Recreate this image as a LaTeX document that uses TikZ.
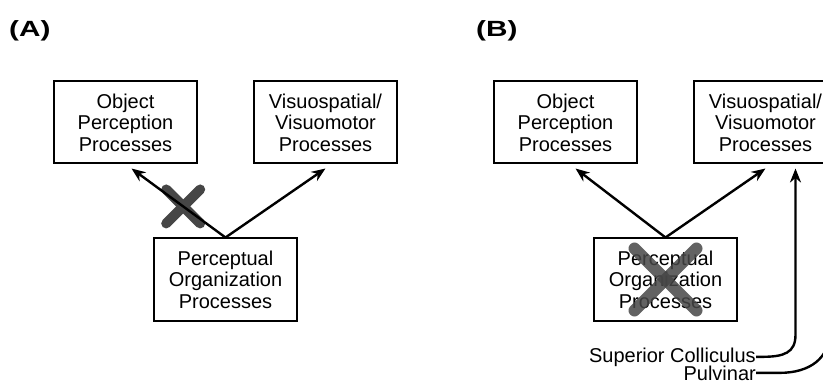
\documentclass[tikz,border=0pt]{standalone}
\usepackage{fontspec}
\setmainfont{Liberation Sans}
\usetikzlibrary{arrows.meta,positioning,calc}
\tikzset{
    procbox/.style={draw, line width=2pt, minimum width=143pt, minimum height=82pt, align=center, inner sep=2pt, font=\fontsize{20}{21.5}\selectfont},
    pathway/.style={-{Stealth[length=14pt, width=11pt, inset=4.5pt]}, line width=2.4pt},
    lesion/.style={line width=10pt, gray!55!black, line cap=round},
    panel/.style={font=\fontsize{22}{24}\selectfont\bfseries, anchor=base west, inner sep=0pt},
    inputlbl/.style={font=\fontsize{20}{22}\selectfont, anchor=base east, inner sep=0pt}
}

\begin{document}
\begin{tikzpicture}[x=1pt, y=1pt, node distance=55pt]
            \useasboundingbox (0,0) rectangle (823,-385);
            \clip (0,0) rectangle (823,-385);
            % panel A
            \node[panel] (labA) at (9,-37) {\scalebox{1.35}[1]{(A)}};
            \node[procbox] (objA) at (125.5,-122.5) {Object\\Perception\\Processes};
            \node[procbox, right=of objA] (visA) {Visuospatial/\\Visuomotor\\Processes};
            \node[procbox, below=73pt of $(objA.south)!0.5!(visA.south)$] (orgA) {Perceptual\\Organization\\Processes};
            \coordinate (cutA) at ($(orgA.north)!0.45!([xshift=6pt,yshift=-4pt]objA.south)$);
            \draw[lesion] ([shift={(-17pt,17pt)}]cutA) -- ([shift={(17pt,-17pt)}]cutA);
            \draw[lesion] ([shift={(-17pt,-17pt)}]cutA) -- ([shift={(17pt,17pt)}]cutA);
            \draw[pathway] (orgA.north) -- ([xshift=6pt,yshift=-4pt]objA.south);
            \draw[pathway] (orgA.north) -- ([yshift=-4pt]visA.south);
            % panel B
            \node[panel] (labB) at (476,-37) {\scalebox{1.35}[1]{(B)}};
            \node[procbox] (objB) at (565.5,-122.5) {Object\\Perception\\Processes};
            \node[procbox, right=of objB] (visB) {Visuospatial/\\Visuomotor\\Processes};
            \node[procbox, below=73pt of $(objB.south)!0.5!(visB.south)$] (orgB) {Perceptual\\Organization\\Processes};
            \draw[lesion, line width=12pt, opacity=0.85] ([shift={(-31pt,31pt)}]orgB.center) -- ([shift={(31pt,-31pt)}]orgB.center);
            \draw[lesion, line width=12pt, opacity=0.85] ([shift={(-31pt,-31pt)}]orgB.center) -- ([shift={(31pt,31pt)}]orgB.center);
            \draw[pathway] (orgB.north) -- ([xshift=10pt,yshift=-4pt]objB.south);
            \draw[pathway] (orgB.north) -- ([yshift=-4pt]visB.south);
            \node[inputlbl] (sc) at (756,-362) {Superior Colliculus};
            \node[inputlbl] (pulv) at (756,-380) {Pulvinar};
            \coordinate (scin) at ([xshift=30pt,yshift=-4pt]visB.south);
            \coordinate (pvin) at ([xshift=64pt,yshift=-4pt]visB.south);
            \draw[pathway] (sc.east) -- ++(6pt,0) .. controls +(22pt,0) and +(0,-18pt) .. ($(scin |- sc.east)+(0,22pt)$) -- (scin);
            \draw[pathway] (pulv.east) -- ++(24pt,0) .. controls +(30pt,0) and +(0,-25pt) .. ($(pvin |- pulv.east)+(0,40pt)$) -- (pvin);
        \end{tikzpicture}
\end{document}
